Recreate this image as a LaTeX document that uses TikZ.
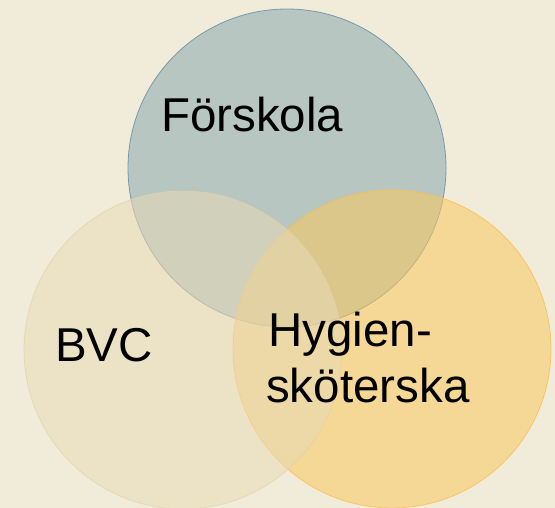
\documentclass[tikz,border=0pt]{standalone}
\usepackage{fontspec}
\setmainfont{Liberation Sans}
\definecolor{bgc}{RGB}{241,236,218}
\definecolor{topfill}{RGB}{183,198,192}
\definecolor{topline}{RGB}{120,152,172}
\definecolor{leftfill}{RGB}{232,218,182}
\definecolor{leftline}{RGB}{228,210,165}
\definecolor{rightfill}{RGB}{250,200,95}
\definecolor{rightline}{RGB}{250,190,80}
\tikzset{
  venn/.style={circle, inner sep=0pt, minimum size=318pt, line width=0.8pt},
  lbl/.style={anchor=base west, inner sep=0pt, font=\fontsize{47.5}{57}\selectfont, text=black}
}
\begin{document}
\begin{tikzpicture}[x=1pt,y=-1pt]
\fill[bgc] (0,0) rectangle (555,508);
\useasboundingbox (0,0) rectangle (555,508);
\node[venn, fill=topfill, draw=topline] (fors) at (287,168) {};
\node[venn, fill=rightfill, fill opacity=0.55, draw=rightline, draw opacity=0.8] (hyg) at (392,349) {};
\node[venn, fill=leftfill, fill opacity=0.55, draw=leftline, draw opacity=0.7] (bvc) at (183,350) {};
\node[lbl] (tfors) at (161,132) {Förskola};
\node[lbl] (tbvc) at (55,361) {BVC};
\node[lbl] (thyg) at (268,346) {Hygien-};
\node[lbl] (tsko) at (266,402) {sköterska};
\end{tikzpicture}
\end{document}
